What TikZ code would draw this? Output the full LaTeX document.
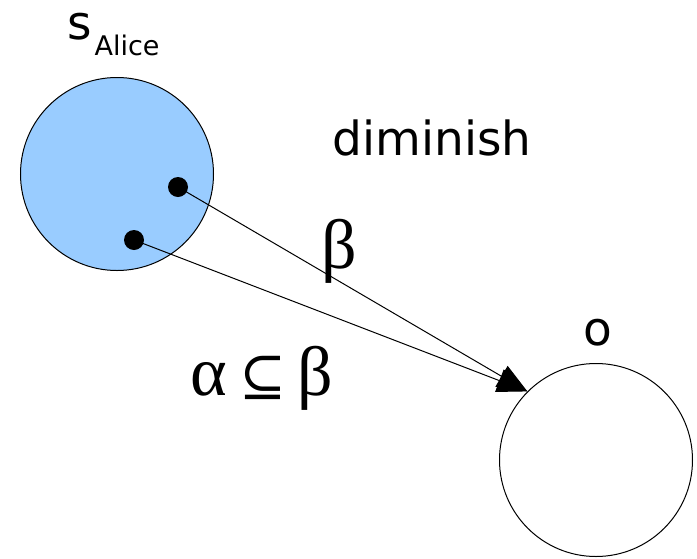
\documentclass[tikz,border=0pt]{standalone}
\usepackage{fontspec}
\setmainfont{DejaVu Sans}
\newfontfamily\greekfont{Liberation Serif}
\newfontfamily\relfont{DejaVu Serif}
\usetikzlibrary{arrows.meta}

\begin{document}
\begin{tikzpicture}[x=1pt, y=-1pt,
  ball/.style={circle, draw=black, line width=1pt, minimum size=193pt, inner sep=0pt},
  dot/.style={circle, fill=black, minimum size=20pt, inner sep=0pt},
  arr/.style={-{Triangle[length=30pt, width=24pt]}, line width=1pt},
  lbl/.style={font=\fontsize{47}{50}\selectfont, inner sep=0pt},
  glbl/.style={font=\fontsize{70}{74}\selectfont\greekfont, inner sep=0pt},
]
\useasboundingbox (0,0) rectangle (697,558);
% sets
\node[ball, fill={rgb,255:red,153;green,204;blue,255}] (alice) at (117,174) {};
\node[ball, fill=white] (o) at (596,460) {};
% members of s_Alice
\node[dot] (d1) at (178,187) {};
\node[dot] (d2) at (134,240) {};
% connectors
\draw[arr] (d1.center) -- (o.135);
\draw[arr] (d2.center) -- (o.135);
% labels
\node[lbl] (salice) at (80,27) {s};
\node[font=\fontsize{27}{30}\selectfont, inner sep=0pt] (sub) at (127,45) {Alice};
\node[lbl] (dim) at (432,138) {diminish};
\node[lbl] (olbl) at (598,333) {o};
\node[glbl] (beta) at (339,251) {β};
\node[glbl] (sub_rel) at (262,378) {α\,{\relfont\fontsize{56}{60}\selectfont ⊆}\,β};
\end{tikzpicture}
\end{document}
